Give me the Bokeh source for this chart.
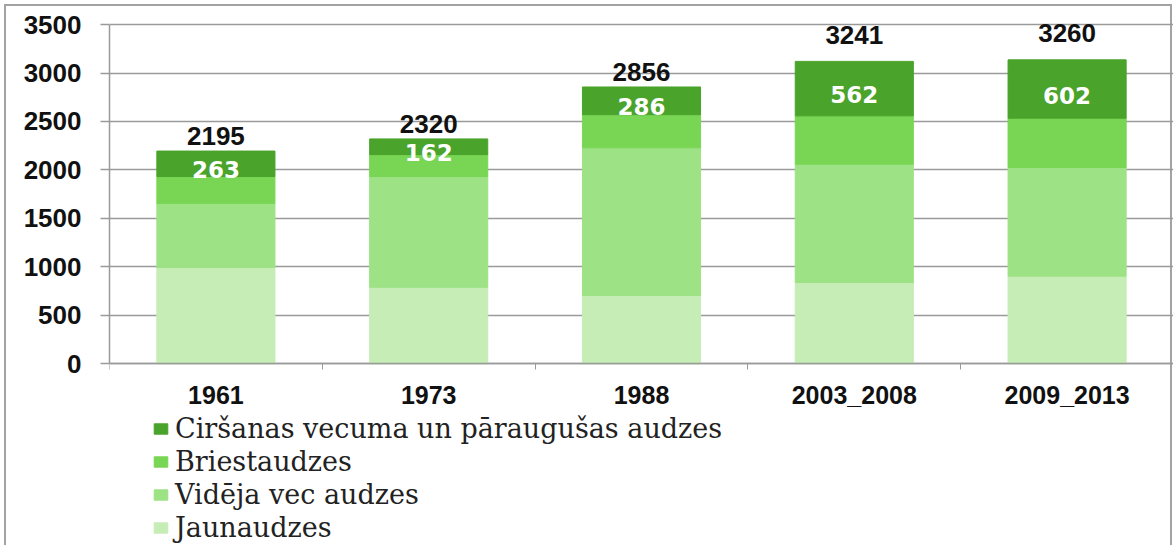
from bokeh.plotting import figure
from bokeh.models import Range1d, FixedTicker, Legend, LegendItem, ColumnDataSource
from bokeh.core.properties import value
from bokeh.embed import file_html
from bokeh.resources import INLINE

# ---- data ----
categories = ["1961", "1973", "1988", "2003_2008", "2009_2013"]
jaunaudzes = [995, 790, 705, 839, 904]
videja_vec = [660, 1142, 1523, 1220, 1121]
briestaudzes = [277, 226, 342, 499, 509]
cirsanas = [263, 162, 286, 562, 602]
totals = [2195, 2320, 2856, 3241, 3260]
y_ticks = [0, 500, 1000, 1500, 2000, 2500, 3000, 3500]

series_keys = ["jaun", "vid", "briest", "cirs"]
series_names = ["Jaunaudzes", "Vidēja vec audzes", "Briestaudzes",
                "Ciršanas vecuma un pāraugušas audzes"]
colors = ["#C5EDB5", "#9DE285", "#79D655", "#4AA32A"]

xs = [i + 0.5 for i in range(len(categories))]
cirs_mid = [j + v + b + c / 2 for j, v, b, c in zip(jaunaudzes, videja_vec, briestaudzes, cirsanas)]

source = ColumnDataSource(dict(
    x=xs, jaun=jaunaudzes, vid=videja_vec, briest=briestaudzes, cirs=cirsanas,
    tot=totals, tot_text=[str(t) for t in totals],
    cmid=cirs_mid, ctext=[str(c) for c in cirsanas],
))

p = figure(frame_width=1064, frame_height=545, output_backend="svg", toolbar_location=None,
           x_range=Range1d(0, 5.0), y_range=Range1d(-1874, 3748),
           min_border_left=109, min_border_right=0, min_border_top=0,
           min_border_bottom=0)
p.outline_line_color = None
p.background_fill_alpha = 0
p.border_fill_alpha = 0
bc = "#a3a3a3"
p.styles = {
    "background": (f"linear-gradient({bc},{bc}) 4px 4px / 1168px 2px no-repeat, "
                   f"linear-gradient({bc},{bc}) 4px 4px / 2px 100% no-repeat, "
                   f"linear-gradient({bc},{bc}) 1170px 4px / 2px 100% no-repeat, white"),
}

renderers = p.vbar_stack(series_keys, x="x", width=0.555, color=colors, source=source)

# total labels
p.text(x="x", y="tot", text="tot_text", source=source,
       text_font=value("Liberation Sans"), text_font_style="bold",
       text_font_size="26px", text_color="#111111",
       text_align="center", text_baseline="middle", y_offset=-15)
# top segment labels
p.text(x="x", y="cmid", text="ctext", source=source,
       text_font=value("DejaVu Sans"), text_font_style="bold",
       text_font_size="23px", text_color="white",
       text_align="center", text_baseline="middle", y_offset=6)

# axes
grey = "#9a9a9a"
xa = p.xaxis[0]
xa.fixed_location = 0
xa.ticker = FixedTicker(ticks=xs, minor_ticks=[0, 1, 2, 3, 4, 5])
xa.major_label_overrides = {x: c for x, c in zip(xs, categories)}
xa.major_tick_out = 0
xa.major_tick_in = 0
xa.minor_tick_out = 6
xa.minor_tick_in = 0
xa.minor_tick_line_color = grey
xa.axis_line_color = grey
xa.axis_line_width = 1.5
xa.major_label_standoff = 11
xa.major_label_text_font = "Liberation Sans"
xa.major_label_text_font_style = "bold"
xa.major_label_text_font_size = "25px"
xa.major_label_text_color = "#111111"

ya = p.yaxis[0]
ya.ticker = FixedTicker(ticks=y_ticks)
ya.bounds = (0, 3500)
ya.major_tick_out = 9
ya.major_tick_in = 0
ya.minor_tick_line_color = None
ya.major_tick_line_color = grey
ya.major_tick_line_width = 1.5
ya.axis_line_color = grey
ya.axis_line_width = 1.5
ya.major_label_standoff = 19
ya.major_label_text_font = "Liberation Sans"
ya.major_label_text_font_style = "bold"
ya.major_label_text_font_size = "26px"
ya.major_label_text_color = "#111111"

p.xgrid.grid_line_color = None
p.ygrid.grid_line_color = grey
p.ygrid.grid_line_width = 1.5

items = [LegendItem(label=series_names[i], renderers=[renderers[i]]) for i in reversed(range(4))]
legend = Legend(items=items, location=(43, 1), orientation="vertical",
                label_text_font="DejaVu Serif", label_text_font_size="27px",
                label_text_color="#222222",
                label_height=33, glyph_height=13, glyph_width=17, spacing=0,
                padding=0, margin=0, label_standoff=6,
                border_line_color=None, background_fill_alpha=0)
p.add_layout(legend)

open("out.html", "w").write(file_html(p, INLINE))
